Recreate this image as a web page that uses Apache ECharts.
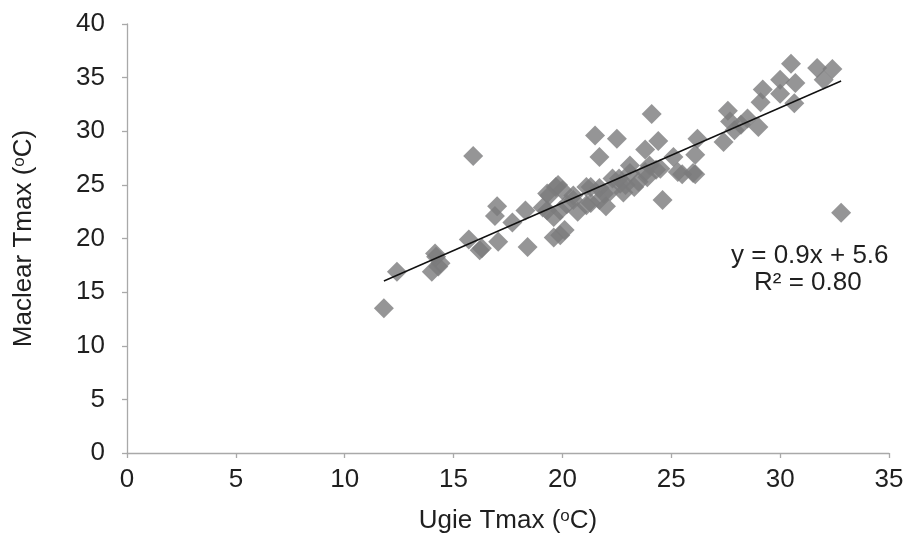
<!DOCTYPE html>
<html>
<head>
<meta charset="utf-8">
<script src="https://cdn.jsdelivr.net/npm/echarts@6/dist/echarts.min.js"></script>
<style>
  html, body { margin: 0; padding: 0; background: #fff; }
  #chart { width: 909px; height: 539px; }
</style>
</head>
<body>
<div id="chart"></div>
<script>
// Daily maximum temperature pairs (°C): Ugie station (x) vs Maclear station (y)
const ugieTmax = [
  11.8, 12.4, 14.0, 14.15, 14.3, 14.4, 14.2,
  15.7, 15.9, 16.2, 16.3, 16.9, 17.0, 17.05, 17.7, 18.3, 18.4,
  19.1, 19.3, 19.4, 19.3, 19.6, 19.7, 19.8, 19.9, 19.6, 19.9, 20.1, 20.5, 20.5, 20.7,
  21.1, 21.1, 21.3, 21.3, 21.5, 21.7, 21.7, 21.7, 22.0, 22.3, 22.5, 22.6, 22.65, 22.8,
  23.1, 23.1, 23.3, 23.8, 23.9, 24.0, 24.1, 24.3, 24.4, 24.6, 25.1, 25.3, 25.5, 26.0,
  26.1, 26.2, 27.4, 27.6, 27.7, 27.9, 28.2, 28.5, 29.0, 29.1, 29.2, 30.0, 30.0, 30.5,
  30.65, 30.7, 31.7, 32.0, 32.4, 32.8,
  22.2, 23.5, 23.8, 24.5, 21.9, 22.9, 20.0, 20.2, 26.1
];
const maclearTmax = [
  13.5, 16.9, 16.9, 18.6, 17.4, 17.7, 18.3,
  19.9, 27.7, 18.9, 19.1, 22.1, 23.0, 19.7, 21.5, 22.6, 19.2,
  22.9, 24.2, 24.0, 22.6, 22.0, 24.8, 25.0, 22.6, 20.1, 20.3, 20.8, 23.6, 24.0, 22.5,
  23.1, 24.8, 23.3, 24.8, 29.6, 27.6, 24.7, 23.6, 23.0, 25.6, 29.3, 25.6, 25.1, 24.3,
  26.1, 26.8, 24.8, 28.3, 25.7, 26.8, 31.6, 26.4, 29.1, 23.6, 27.6, 26.2, 26.0, 26.1,
  27.8, 29.3, 29.0, 31.9, 30.9, 30.1, 30.6, 31.2, 30.4, 32.7, 33.9, 33.5, 34.8, 36.3,
  32.6, 34.5, 35.9, 34.8, 35.8, 22.4,
  24.4, 25.3, 26.2, 26.5, 24.2, 25.0, 24.5, 23.2, 26.0
];

// Linear trendline coefficients and fit quality
const trendSlope = 0.888;
const trendIntercept = 5.56;
const trendR2 = 0.80;

const xTicks = [0, 5, 10, 15, 20, 25, 30, 35];
const yTicks = [0, 5, 10, 15, 20, 25, 30, 35, 40];

const points = ugieTmax.map((x, i) => [x, maclearTmax[i]]);
const xMin = Math.min(...ugieTmax);
const xMax = Math.max(...ugieTmax);
const trendPoints = [xMin, xMax].map(x => [x, trendSlope * x + trendIntercept]);

const FONT = '"Liberation Sans", Arial, sans-serif';
const FS = 26;
const axisGrey = '#a9a9a9';
const textColor = '#1f1f1f';

const chart = echarts.init(document.getElementById('chart'), null, { renderer: 'canvas' });

// small raised "o" used for the degree sign in the axis titles
const supRich = {
  sup: { fontSize: 17, fontFamily: FONT, color: textColor, verticalAlign: 'top' }
};

chart.setOption({
  animation: false,
  backgroundColor: '#ffffff',
  grid: { left: 127, right: 20, top: 24, bottom: 86 },
  xAxis: {
    type: 'value',
    min: xTicks[0],
    max: xTicks[xTicks.length - 1],
    interval: xTicks[1] - xTicks[0],
    name: 'Ugie Tmax ({sup|o}C)',
    nameLocation: 'middle',
    nameGap: 55,
    nameTextStyle: { fontSize: FS, fontFamily: FONT, color: textColor, rich: supRich },
    axisLine: { show: true, onZero: false, lineStyle: { color: axisGrey, width: 1.3 } },
    axisTick: { show: true, inside: false, length: 5, lineStyle: { color: axisGrey, width: 1.3 } },
    axisLabel: { fontSize: FS, fontFamily: FONT, color: textColor, margin: 14 },
    splitLine: { show: false }
  },
  yAxis: {
    type: 'value',
    min: yTicks[0],
    max: yTicks[yTicks.length - 1],
    interval: yTicks[1] - yTicks[0],
    name: 'Maclear Tmax ({sup|o}C)',
    nameLocation: 'middle',
    nameGap: 90,
    nameRotate: 90,
    nameTextStyle: { fontSize: FS, fontFamily: FONT, color: textColor, rich: supRich },
    axisLine: { show: true, onZero: false, lineStyle: { color: axisGrey, width: 1.3 } },
    axisTick: { show: true, inside: false, length: 5, lineStyle: { color: axisGrey, width: 1.3 } },
    axisLabel: { fontSize: FS, fontFamily: FONT, color: textColor, margin: 22 },
    splitLine: { show: false }
  },
  series: [
    {
      type: 'scatter',
      data: points,
      symbol: 'diamond',
      symbolSize: 20,
      itemStyle: { color: '#7a7a7c' },
      z: 2
    },
    {
      type: 'line',
      data: trendPoints,
      symbol: 'none',
      lineStyle: { color: '#111111', width: 1.4 },
      z: 3
    }
  ],
  graphic: [
    {
      type: 'text',
      left: 731,
      top: 243,
      style: {
        text: 'y = ' + trendSlope.toFixed(1) + 'x + ' + trendIntercept.toFixed(1),
        font: FS + 'px ' + FONT,
        fill: textColor
      }
    },
    {
      type: 'text',
      left: 754,
      top: 270,
      style: {
        text: 'R² = ' + trendR2.toFixed(2),
        font: FS + 'px ' + FONT,
        fill: textColor
      }
    }
  ]
});
</script>
</body>
</html>
